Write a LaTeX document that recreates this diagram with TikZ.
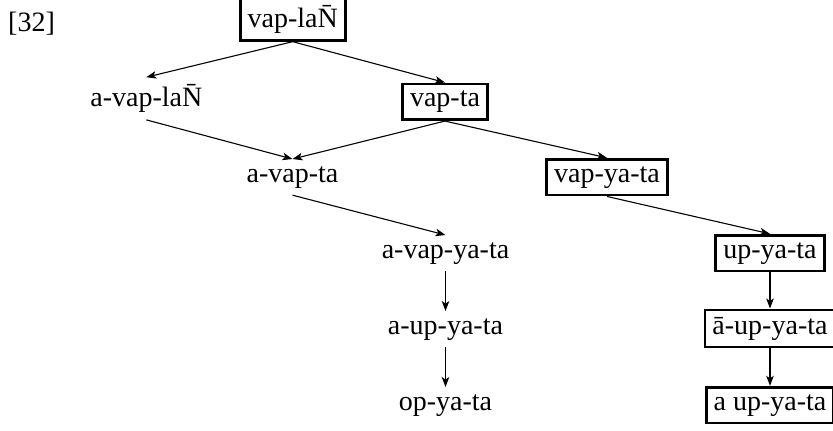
\documentclass[tikz,border=0pt]{standalone}
\usepackage{fontspec}
\setmainfont{Liberation Serif}
\usetikzlibrary{arrows.meta}
\begin{document}
\begin{tikzpicture}[x=1pt,y=-1pt,
  form/.style={font=\fontsize{28}{34}\selectfont, inner xsep=7.5pt, inner ysep=7pt, anchor=base},
  boxed/.style={form, draw, line width=2.8pt},
  deriv/.style={-{Stealth[length=10pt,width=7.5pt,inset=2.5pt]}, line width=1.1pt}]
\useasboundingbox (0,0) rectangle (833,431);

% example number
\node[form, anchor=base west, inner xsep=0pt] (num) at (8,31) {[32]};

% derivation forms (boxed = attested surface forms)
\node[boxed] (root)  at (292.7,27.3) {\rule{0pt}{26pt}vap-la\={N}};
\node[form]  (avl)   at (146.3,106.7) {a-vap-la\={N}};
\node[boxed] (vt)    at (445,106.7) {vap-ta};
\node[form]  (avt)   at (292.5,182) {a-vap-ta};
\node[boxed] (vyt)   at (607,182) {vap-ya-ta};
\node[form]  (avyt)  at (445.5,258) {a-vap-ya-ta};
\node[boxed] (uyt)   at (770,258) {up-ya-ta};
\node[form]  (auyt)  at (445.5,334) {a-up-ya-ta};
\node[boxed] (Auyt)  at (770,334) {ā-up-ya-ta};
\node[form]  (oyt)   at (445.5,410) {op-ya-ta};
\node[boxed] (a2uyt) at (770,410) {a up-ya-ta};

% derivation arrows
\draw[deriv] (root.south) -- (avl.north);
\draw[deriv] (root.south) -- (vt.north);
\draw[deriv] (avl.south)  -- (avt.north);
\draw[deriv] (vt.south)   -- (avt.north);
\draw[deriv] (vt.south)   -- (vyt.north);
\draw[deriv] (avt.south)  -- (avyt.north);
\draw[deriv] (vyt.south)  -- (uyt.north);
\draw[deriv] (avyt.south) -- (auyt.north);
\draw[deriv] (auyt.south) -- (oyt.north);
\draw[deriv] (uyt.south)  -- (Auyt.north);
\draw[deriv] (Auyt.south) -- (a2uyt.north);
\end{tikzpicture}
\end{document}
